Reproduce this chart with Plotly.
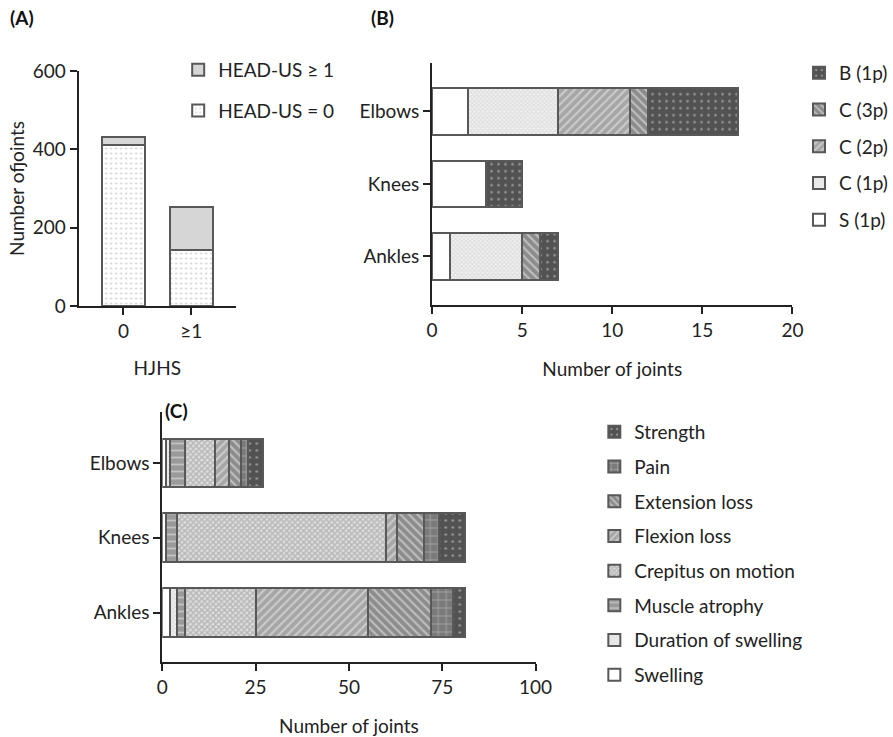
import plotly.graph_objects as go

# ---------------- Data ----------------
# Panel A
hjhs_cats = ["0", "≥1"]
head_us_0 = [410, 143]
head_us_ge1 = [22, 109]

# Panel B (order: Ankles, Knees, Elbows)
joints = ["Ankles", "Knees", "Elbows"]
b_S1 = [1, 3, 2]
b_C1 = [4, 0, 5]
b_C2 = [0, 0, 4]
b_C3 = [1, 0, 1]
b_B1 = [1, 2, 5]

# Panel C (order: Ankles, Knees, Elbows)
c_swelling = [2, 1, 1]
c_duration = [2, 0, 1]
c_atrophy = [2, 3, 4]
c_crepitus = [19, 56, 8]
c_flexion = [30, 3, 4]
c_extension = [17, 7, 3]
c_pain = [6, 4, 2]
c_strength = [3, 7, 4]

# ---------------- Styles ----------------
FONT = "Lato, 'Open Sans', sans-serif"
FS = 19
EDGE = "#585858"
AX = "#222222"

styles = {
    "white": dict(color="white"),
    "lightdots": dict(color="white", pattern=dict(shape=".", fgcolor="#9a9a9a", bgcolor="white", size=5, solidity=0.15)),
    "lightgray": dict(color="#d6d6d6"),
    "lightcheck": dict(color="#eeeeee", pattern=dict(shape="x", fgcolor="#c4c4c4", bgcolor="#f2f2f2", size=3, solidity=0.5)),
    "check": dict(color="#cfcfcf", pattern=dict(shape="x", fgcolor="#8e8e8e", bgcolor="#dedede", size=4, solidity=0.6)),
    "fslash": dict(color="#b0b0b0", pattern=dict(shape="/", fgcolor="#f2f2f2", bgcolor="#a6a6a6", size=6, solidity=0.35)),
    "bslash": dict(color="#909090", pattern=dict(shape="\\", fgcolor="#f2f2f2", bgcolor="#8c8c8c", size=6, solidity=0.35)),
    "hlines": dict(color="#a0a0a0", pattern=dict(shape="-", fgcolor="#ececec", bgcolor="#9a9a9a", size=7, solidity=0.25)),
    "grid": dict(color="#808080", pattern=dict(shape="+", fgcolor="#d4d4d4", bgcolor="#7a7a7a", size=8, solidity=0.2)),
    "darkdots": dict(color="#555555", pattern=dict(shape=".", fgcolor="#d8d8d8", bgcolor="#525252", size=7, solidity=0.12)),
}


def mk(style):
    m = dict(styles[style])
    m["line"] = dict(color=EDGE, width=2)
    return m


fig = go.Figure()

# Panel A
a_series = [("HEAD-US = 0", head_us_0, "lightdots"), ("HEAD-US ≥ 1", head_us_ge1, "lightgray")]
for i, (name, vals, st) in enumerate(a_series):
    fig.add_trace(go.Bar(x=hjhs_cats, y=vals, name=name, marker=mk(st), width=0.63,
                         xaxis="x", yaxis="y", legend="legend", legendgroup="a%d" % i,
                         legendrank=100 - i))

# Panel B
b_series = [("S (1p)", b_S1, "white"), ("C (1p)", b_C1, "lightcheck"), ("C (2p)", b_C2, "fslash"),
            ("C (3p)", b_C3, "bslash"), ("B (1p)", b_B1, "darkdots")]
for i, (name, vals, st) in enumerate(b_series):
    fig.add_trace(go.Bar(y=joints, x=vals, orientation="h", name=name, marker=mk(st), width=0.64,
                         xaxis="x2", yaxis="y2", legend="legend2", legendgroup="b%d" % i,
                         legendrank=100 - i))

# Panel C
c_series = [("Swelling", c_swelling, "white"), ("Duration of swelling", c_duration, "lightcheck"),
            ("Muscle atrophy", c_atrophy, "hlines"), ("Crepitus on motion", c_crepitus, "check"),
            ("Flexion loss", c_flexion, "fslash"), ("Extension loss", c_extension, "bslash"),
            ("Pain", c_pain, "grid"), ("Strength", c_strength, "darkdots")]
for i, (name, vals, st) in enumerate(c_series):
    fig.add_trace(go.Bar(y=joints, x=vals, orientation="h", name=name, marker=mk(st), width=0.65,
                         xaxis="x3", yaxis="y3", legend="legend3", legendgroup="c%d" % i,
                         legendrank=100 - i))

axis_common = dict(showgrid=False, zeroline=False, showline=True, linecolor=AX, linewidth=2,
                   ticks="outside", ticklen=7, tickwidth=2, tickcolor=AX, automargin=False,
                   tickfont=dict(size=FS, color="#222"), title_font=dict(size=FS, color="#222"))

H = 737.0
W = 893.0


def ydom(top_px, bot_px):
    return [(H - bot_px) / H, (H - top_px) / H]


legend_common = dict(xanchor="left", yanchor="top", traceorder="grouped",
                     font=dict(size=FS, color="#222"), bgcolor="rgba(0,0,0,0)")

fig.update_layout(
    width=893, height=737,
    margin=dict(l=0, r=0, t=0, b=0),
    paper_bgcolor="white", plot_bgcolor="white",
    font=dict(family=FONT, size=FS, color="#222"),
    barmode="stack",
    bargap=0.35,
    xaxis=dict(axis_common, domain=[79 / W, 237 / W], anchor="y", type="category",
               range=[-0.66, 1.66], title=dict(text="HJHS", standoff=21)),
    yaxis=dict(axis_common, domain=ydom(71, 306), anchor="x", range=[0, 600],
               tickvals=[0, 200, 400, 600], title=dict(text="Number ofjoints", standoff=3)),
    xaxis2=dict(axis_common, domain=[434 / W, 796 / W], anchor="y2", range=[0, 20],
                tickvals=[0, 5, 10, 15, 20], title=dict(text="Number of joints", standoff=23)),
    yaxis2=dict(axis_common, domain=ydom(62.7, 305), anchor="x2", type="category",
                categoryorder="array", categoryarray=joints, range=[-0.67, 2.67]),
    xaxis3=dict(axis_common, domain=[163 / W, 538 / W], anchor="y3", range=[0, 100],
                tickvals=[0, 25, 50, 75, 100], title=dict(text="Number of joints", standoff=26)),
    yaxis3=dict(axis_common, domain=ydom(412, 662), anchor="x3", type="category",
                categoryorder="array", categoryarray=joints, range=[-0.66, 2.68]),
    legend=dict(legend_common, x=179 / W, y=(H - 51) / H, tracegroupgap=13),
    legend2=dict(legend_common, x=803 / W, y=(H - 54) / H, tracegroupgap=9),
    legend3=dict(legend_common, x=597 / W, y=(H - 413) / H, tracegroupgap=7),
    annotations=[
        dict(text="<b>(A)</b>", x=8 / W, y=(H - 17) / H, xref="paper", yref="paper", showarrow=False,
             xanchor="left", yanchor="middle", font=dict(size=FS, color="#111")),
        dict(text="<b>(B)</b>", x=371 / W, y=(H - 17) / H, xref="paper", yref="paper", showarrow=False,
             xanchor="left", yanchor="middle", font=dict(size=FS, color="#111")),
        dict(text="<b>(C)</b>", x=164 / W, y=(H - 410) / H, xref="paper", yref="paper", showarrow=False,
             xanchor="left", yanchor="middle", font=dict(size=FS, color="#111")),
    ],
)

fig.write_html("out.html", config={"displayModeBar": False},
               post_script="document.body.style.margin='0';document.body.style.overflow='hidden';")
